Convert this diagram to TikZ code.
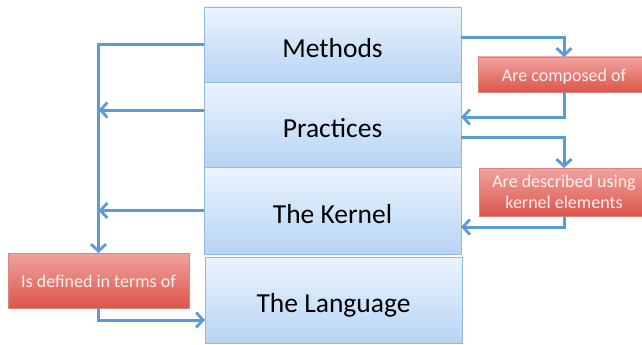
\documentclass[tikz,border=0pt]{standalone}
\usepackage{fontspec}
\setmainfont{Carlito}
\usetikzlibrary{arrows.meta}
\definecolor{bluetop}{HTML}{EBF4FE}
\definecolor{bluebot}{HTML}{B8D4F4}
\definecolor{blueedge}{HTML}{93B8E0}
\definecolor{redtop}{HTML}{F0A3A1}
\definecolor{redbot}{HTML}{DC5549}
\definecolor{rededge}{HTML}{D9857F}
\definecolor{connc}{HTML}{5B9BD5}
\definecolor{redtext}{HTML}{FFF1F0}
\tikzset{
  bluebox/.style={draw=blueedge, line width=0.9pt, top color=bluetop, bottom color=bluebot,
    minimum width=257pt, inner sep=0pt, outer sep=0pt, text height=25pt, text depth=0pt,
    font=\fontsize{27.5}{32}\selectfont},
  redbox/.style={draw=rededge, line width=0.5pt, top color=redtop, bottom color=redbot,
    inner sep=0pt, outer sep=0pt, text=redtext, align=center, font=\fontsize{18}{21}\selectfont},
  conn/.style={draw=connc, line width=3pt, -{Straight Barb[length=7pt,width=15pt,line width=2.8pt]}}
}
\begin{document}
\begin{tikzpicture}[x=1pt,y=-1pt]
\useasboundingbox (0,0) rectangle (642,345);
% blue boxes
\node[bluebox, minimum height=75pt] (meth) at (332.5,44.5) {Methods};
\node[bluebox, minimum height=85pt] (prac) at (332.5,124.5) {Practices};
\node[bluebox, minimum height=87pt] (kern) at (332.5,210.5) {The Kernel};
\node[bluebox, minimum height=86pt] (lang) at (333.5,300) {The Language};
% red boxes
\node[redbox, minimum width=172pt, minimum height=35pt, text height=14.5pt, text depth=0pt] (red1) at (564,74.5) {Are composed of};
\node[redbox, minimum width=170pt, minimum height=48pt] (red2) at (564,192) {Are described using\\kernel elements};
\node[redbox, minimum width=181pt, minimum height=55pt, text height=14.5pt, text depth=0pt] (red3) at (98.5,280.5) {Is defined in terms of};
% helper coordinates
\coordinate (pa) at ([yshift=14.5pt]prac.west);
\coordinate (lw) at ([yshift=-20pt]lang.west);
\coordinate (me) at ([yshift=6.5pt]meth.east);
\coordinate (pe1) at ([yshift=7.5pt]prac.east);
\coordinate (pe2) at ([yshift=-12.5pt]prac.east);
\coordinate (ke) at ([yshift=-16.5pt]kern.east);
% left connectors
\draw[conn] (meth.west) -| (red3.north);
\draw[conn] (pa) -- (pa -| red3.north);
\draw[conn] (kern.west) -- (kern.west -| red3.north);
\draw[conn] (red3.south) |- (lw);
% right connectors
\draw[conn] (me) -| (red1.north);
\draw[conn] (red1.south) |- (pe1);
\draw[conn] (pe2) -| (red2.north);
\draw[conn] (red2.south) |- (ke);
\end{tikzpicture}
\end{document}
